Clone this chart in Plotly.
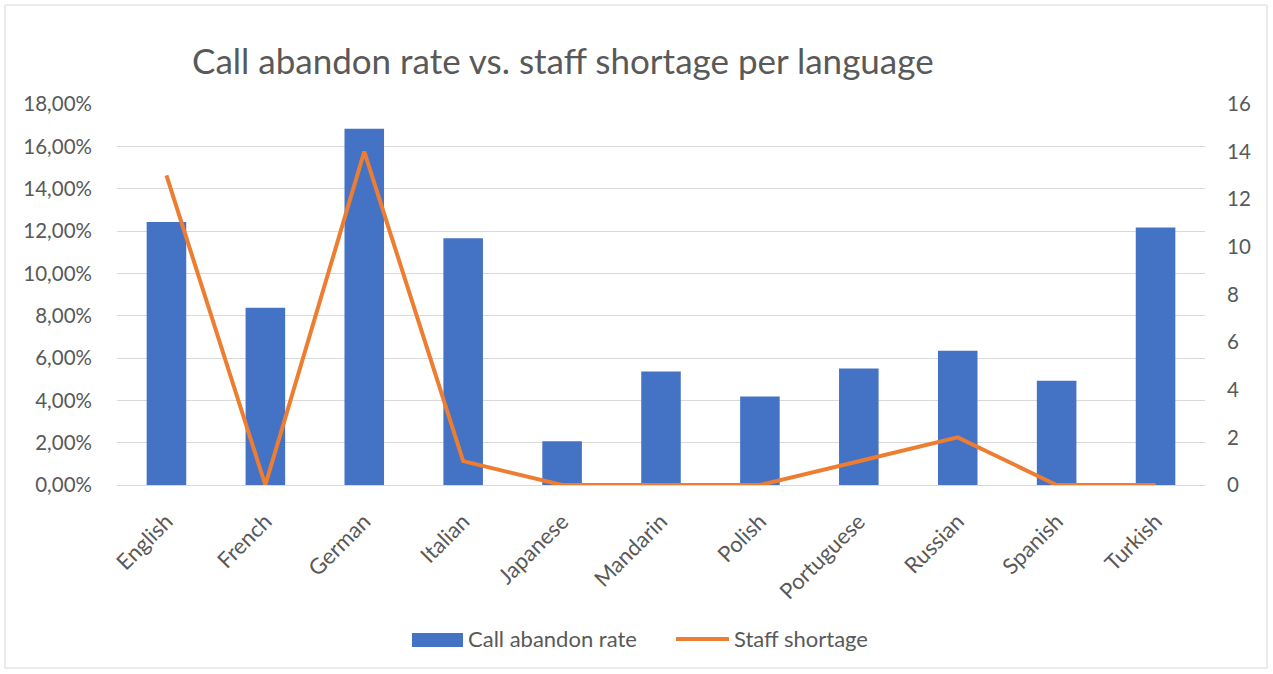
import plotly.graph_objects as go

languages = ["English", "French", "German", "Italian", "Japanese", "Mandarin",
             "Polish", "Portuguese", "Russian", "Spanish", "Turkish"]
abandon_rate = [0.1243, 0.0837, 0.1683, 0.1166, 0.0207, 0.0536,
                0.0418, 0.0550, 0.0634, 0.0493, 0.1217]
staff_shortage = [13, 0, 14, 1, 0, 0, 0, 1, 2, 0, 0]

W, H = 1273, 674
L, R, T, B = 117, 68, 104, 189
PW, PH = W - L - R, H - T - B
TXT = "#595959"
BLUE = "#4472C4"
ORANGE = "#ED7D31"
FONT = "Lato"
NUM = 20.5
LBL = 22


def px(x):
    return (x - L) / PW


def py(y):
    return (H - B - y) / PH


fig = go.Figure()
fig.add_trace(go.Bar(
    x=languages, y=abandon_rate, name="Call abandon rate",
    marker=dict(color=BLUE, line=dict(width=0)),
    yaxis="y",
))
fig.add_trace(go.Scatter(
    x=languages, y=staff_shortage, name="Staff shortage",
    mode="lines", line=dict(color=ORANGE, width=4),
    yaxis="y2",
))

shapes = [
    # outer chart frame
    dict(type="rect", xref="paper", yref="paper",
         x0=px(5), x1=px(1267), y0=py(668), y1=py(5),
         line=dict(color="#D9D9D9", width=1), layer="below"),
    # legend keys
    dict(type="rect", xref="paper", yref="paper",
         x0=px(412), x1=px(463), y0=py(647), y1=py(633),
         fillcolor=BLUE, line=dict(width=0)),
    dict(type="line", xref="paper", yref="paper",
         x0=px(676), x1=px(729), y0=py(639), y1=py(639),
         line=dict(color=ORANGE, width=4)),
]
annotations = [
    dict(text="Call abandon rate", xref="paper", yref="paper",
         x=px(466), y=py(638), xanchor="left", yanchor="middle",
         showarrow=False, font=dict(size=LBL, color=TXT, family=FONT)),
    dict(text="Staff shortage", xref="paper", yref="paper",
         x=px(732), y=py(638), xanchor="left", yanchor="middle",
         showarrow=False, font=dict(size=LBL, color=TXT, family=FONT)),
]

fig.update_layout(
    width=W, height=H,
    margin=dict(l=L, r=R, t=T, b=B),
    paper_bgcolor="white", plot_bgcolor="white",
    separators=", ",
    font=dict(family=FONT, color=TXT, size=NUM),
    bargap=0.6,
    showlegend=False,
    title=dict(
        text="Call abandon rate vs. staff shortage per language",
        x=192 / W, xanchor="left", xref="container",
        y=1 - 62 / H, yanchor="middle", yref="container",
        font=dict(family=FONT, size=35, color=TXT),
    ),
    xaxis=dict(
        tickangle=-45, showgrid=False,
        showline=True, linecolor="#D9D9D9", linewidth=1,
        ticks="", tickfont=dict(size=LBL, color=TXT),
        ticklabelstandoff=14,
    ),
    yaxis=dict(
        range=[0, 0.18], dtick=0.02, tickformat=".2%",
        showgrid=True, gridcolor="#D9D9D9", gridwidth=1,
        zeroline=False, showline=False, ticks="",
        tickfont=dict(size=NUM, color=TXT), ticklabelstandoff=24,
    ),
    yaxis2=dict(
        range=[0, 16], dtick=2, overlaying="y", side="right",
        showgrid=False, zeroline=False, showline=False, ticks="",
        tickfont=dict(size=NUM, color=TXT), ticklabelstandoff=21,
    ),
    shapes=shapes,
    annotations=annotations,
)

fig.write_html("out.html")
